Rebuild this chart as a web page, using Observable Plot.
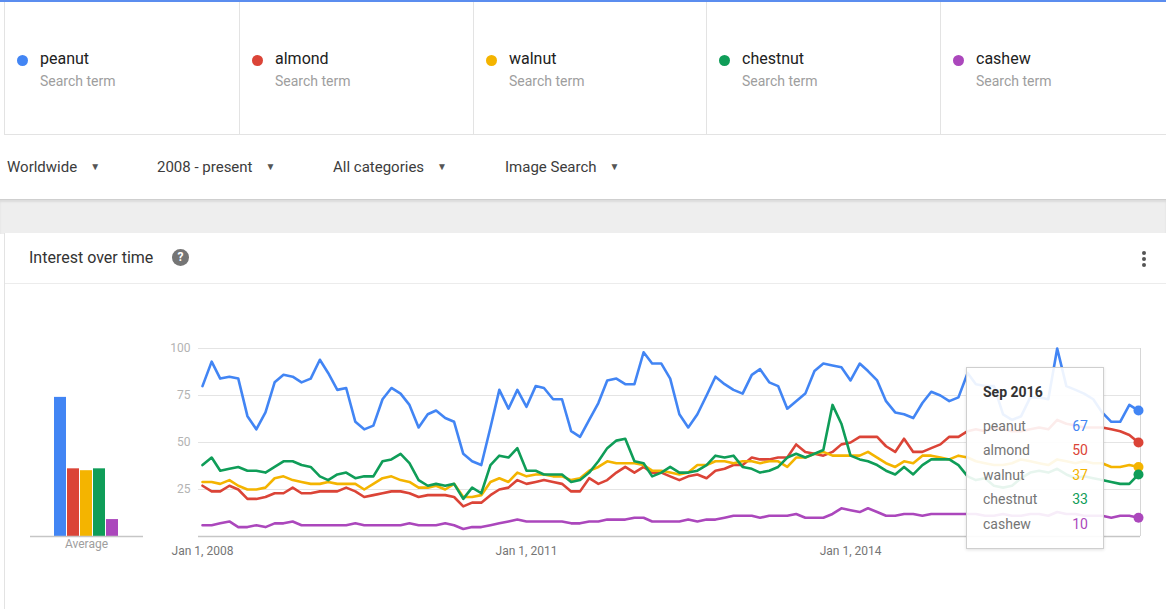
<!DOCTYPE html>
<html>
<head>
<meta charset="utf-8">
<script src="https://cdn.jsdelivr.net/npm/d3@7"></script>
<script src="https://cdn.jsdelivr.net/npm/@observablehq/plot@0.6"></script>
<style>
  html, body { margin: 0; padding: 0; background: #fff; }
  body { width: 1166px; height: 609px; position: relative; overflow: hidden; font-family: Roboto, "Noto Sans", Arial, sans-serif; color: #333; }
  .abs { position: absolute; }
  #topline { left: 0; top: 0; width: 1166px; height: 2px; background: #5b8def; }
  #terms { left: 4px; top: 2px; width: 1162px; height: 132px; border-left: 1px solid #e3e3e3; border-bottom: 1px solid #e3e3e3; }
  .term { position: absolute; top: 0; height: 132px; border-right: 1px solid #e3e3e3; box-sizing: border-box; }
  .term .dot { position: absolute; left: 12px; top: 53px; width: 11px; height: 11px; border-radius: 50%; }
  .term .name { position: absolute; left: 35px; top: 47px; font-size: 16px; color: #212121; }
  .term .sub { position: absolute; left: 35px; top: 71px; font-size: 14px; color: #9e9e9e; }
  .filter { top: 158px; font-size: 15px; color: #3c3c3c; white-space: nowrap; }
  .filter .arr { font-size: 10px; color: #555; margin-left: 13px; position: relative; top: -2px; }
  #band { left: 0; top: 199px; width: 1166px; height: 34px; background: #eeeeee; border-top: 1px solid #cfcfcf; box-shadow: inset 0 2px 2px rgba(0,0,0,0.08); }
  #card { left: 4px; top: 233px; width: 1162px; height: 376px; border-left: 1px solid #e3e3e3; background: #fff; }
  #cardhead { left: 5px; top: 233px; width: 1161px; height: 50px; border-bottom: 1px solid #ececec; }
  #title { left: 29px; top: 248px; font-size: 16px; color: #333; }
  #help { left: 172px; top: 249px; width: 17px; height: 17px; border-radius: 50%; background: #757575; color: #fff; font-size: 12px; font-weight: bold; text-align: center; line-height: 17px; }
  .kdot { position: absolute; left: 1142px; width: 4px; height: 4px; border-radius: 50%; background: #555; }
  #tip { left: 966px; top: 367px; width: 138px; height: 182px; background: rgba(255,255,255,0.9); border: 1px solid #cfcfcf; box-sizing: border-box; box-shadow: 0 1px 3px rgba(0,0,0,0.12); }
  #tip .ttl { position: absolute; left: 16px; top: 16px; font-size: 14px; font-weight: bold; color: #333; }
  #tip .row { position: absolute; left: 16px; width: 105px; font-size: 14px; color: #757575; }
  #tip .row .v { position: absolute; right: 0; top: 0; }
</style>
</head>
<body>
<script>
// ---------- data ----------
const terms = ["peanut", "almond", "walnut", "chestnut", "cashew"];
const termColors = ["#4285f4", "#db4437", "#f4b400", "#0f9d58", "#ab47bc"];
const termSubtitle = "Search term";
const filters = ["Worldwide", "2008 - present", "All categories", "Image Search"];
const averages = [74, 36, 35, 36, 9];
const averageLabel = "Average";
const panelTitle = "Interest over time";
const tooltipTitle = "Sep 2016";
const yTicks = [25, 50, 75, 100];
const xTickMonths = ["2008-01", "2011-01", "2014-01"];
const xTickLabels = ["Jan 1, 2008", "Jan 1, 2011", "Jan 1, 2014"];
const firstMonth = "2008-01";

// monthly values, Jan 2008 .. Sep 2016
const peanut = [
  80,93,84,85,84,64,57,66,82,86,85,82,
  84,94,87,78,79,61,57,59,73,79,76,70,
  58,65,67,63,61,44,40,38,58,78,68,78,
  69,80,79,73,73,56,53,62,71,83,84,81,
  81,98,92,92,84,65,58,65,75,85,81,78,
  76,86,89,82,80,68,72,76,88,92,91,90,
  83,92,88,83,72,66,65,63,71,77,75,72,
  74,87,81,80,80,65,62,64,74,74,73,100,
  80,78,76,73,66,61,61,70,67];
const almond = [
  27,24,24,27,25,20,20,21,23,23,26,23,
  23,24,24,24,26,24,21,22,23,24,24,23,
  21,22,22,22,21,16,18,18,22,25,26,30,
  28,29,30,29,28,24,24,31,28,30,34,37,
  34,37,34,34,32,30,32,33,31,35,36,38,
  38,42,41,41,42,42,49,45,44,43,45,49,
  50,53,53,53,48,45,52,45,45,47,49,53,
  53,56,57,56,58,57,56,56,57,58,57,62,
  60,59,58,58,58,57,56,54,50];
const walnut = [
  29,29,28,30,27,25,25,26,31,32,30,29,
  28,28,29,28,28,28,25,28,31,32,30,29,
  26,26,27,25,28,21,21,22,29,31,29,34,
  32,33,33,32,32,30,31,35,37,40,39,39,
  39,38,35,35,34,33,34,38,38,40,40,39,
  40,40,39,40,40,37,42,42,44,45,43,43,
  43,43,45,42,39,37,40,39,43,43,42,41,
  43,42,40,39,38,38,39,41,40,39,38,41,
  40,39,40,39,39,37,37,38,37];
const chestnut = [
  38,42,35,36,37,35,35,34,37,40,40,38,
  37,32,30,33,34,31,32,32,40,41,44,39,
  30,27,28,27,28,20,26,23,38,43,42,47,
  35,35,33,33,33,29,30,34,40,47,51,52,
  40,39,32,34,37,34,34,35,38,43,42,43,
  37,36,34,35,37,42,44,42,44,46,70,60,
  43,41,40,38,35,33,37,33,38,41,41,41,
  38,32,30,31,27,26,27,31,34,35,34,36,
  33,31,32,31,30,29,28,28,33];
const cashew = [
  6,6,7,8,5,5,6,5,7,7,8,6,
  6,6,6,6,6,7,6,6,6,6,6,7,
  6,6,6,7,6,4,5,5,6,7,8,9,
  8,8,8,8,8,7,7,8,8,9,9,9,
  10,10,8,8,8,8,9,8,9,9,10,11,
  11,11,10,11,11,11,12,10,10,10,12,15,
  14,13,15,13,11,11,12,12,11,12,12,12,
  12,12,12,11,11,12,11,11,12,12,11,13,
  12,12,11,11,11,10,11,11,10];
const seriesValues = [peanut, almond, walnut, chestnut, cashew];

// ---------- page chrome ----------
function el(tag, cls, parent, text) {
  const e = document.createElement(tag);
  if (cls) e.className = cls;
  if (text != null) e.textContent = text;
  (parent || document.body).appendChild(e);
  return e;
}
el("div", "abs", null).id = "topline";
const termsBox = el("div", "abs"); termsBox.id = "terms";
const colStarts = [0, 235, 469, 702, 936, 1162];
terms.forEach((t, k) => {
  const c = el("div", "term", termsBox);
  c.style.left = colStarts[k] + "px";
  c.style.width = (colStarts[k + 1] - colStarts[k]) + "px";
  if (k === terms.length - 1) c.style.borderRight = "none";
  const d = el("div", "dot", c); d.style.background = termColors[k];
  el("div", "name", c, t);
  el("div", "sub", c, termSubtitle);
});
const filterX = [7, 157, 333, 505];
filters.forEach((f, k) => {
  const d = el("div", "abs filter", null, f);
  d.style.left = filterX[k] + "px";
  el("span", "arr", d, "\u25BC");
});
el("div", "abs").id = "band";
el("div", "abs").id = "card";
el("div", "abs").id = "cardhead";
el("div", "abs", null, panelTitle).id = "title";
el("div", "abs", null, "?").id = "help";
[251, 257, 263].forEach(y => { const k = el("div", "kdot"); k.style.top = y + "px"; });

// ---------- charts ----------
const parseMonth = d3.utcParse("%Y-%m");
const start = parseMonth(firstMonth);
const dates = peanut.map((_, i) => d3.utcMonth.offset(start, i));
const xTickDates = xTickMonths.map(parseMonth);
const rows = terms.flatMap((t, k) => seriesValues[k].map((v, i) => ({term: t, date: dates[i], value: v})));
const lastRows = terms.map((t, k) => ({term: t, date: dates[dates.length - 1], value: seriesValues[k][seriesValues[k].length - 1]}));

const main = Plot.plot({
  width: 1166, height: 270,
  marginTop: 48, marginBottom: 34, marginLeft: 202, marginRight: 28,
  style: {fontFamily: "Roboto, sans-serif", fontSize: "12px", background: "transparent", overflow: "visible"},
  x: {type: "utc", domain: [dates[0], dates[dates.length - 1]], label: null},
  y: {domain: [0, 100], label: null},
  color: {domain: terms, range: termColors},
  marks: [
    Plot.ruleY(yTicks, {stroke: "#e4e4e4", insetLeft: -4, insetRight: -2}),
    Plot.ruleY([0], {stroke: "#c6c6c6", strokeWidth: 1.5, insetLeft: -4, insetRight: -2}),
    Plot.ruleX([dates[dates.length - 1]], {stroke: "#d6d6d6", dx: 2}),
    Plot.axisY(yTicks, {tickSize: 0, tickPadding: 12, fill: "#b3b3b3", fontSize: 12}),
    Plot.axisX(xTickDates, {tickSize: 0, tickPadding: 10, fill: "#757575", fontSize: 12,
      tickFormat: d => xTickLabels[xTickDates.findIndex(t => +t === +d)]}),
    Plot.lineY(rows, {x: "date", y: "value", z: "term", stroke: "term", strokeWidth: 2.6, strokeLinejoin: "round"}),
    Plot.dot(lastRows, {x: "date", y: "value", fill: "term", r: 5})
  ]
});
main.style.position = "absolute";
main.style.left = "0px";
main.style.top = "300px";
document.body.appendChild(main);

const avgRows = terms.map((t, k) => ({term: t, value: averages[k]}));
const avg = Plot.plot({
  width: 160, height: 270,
  marginTop: 48, marginBottom: 34, marginLeft: 51, marginRight: 39,
  style: {fontFamily: "Roboto, sans-serif", fontSize: "12px", background: "transparent", overflow: "visible"},
  x: {domain: terms, padding: 0.07, axis: null},
  y: {domain: [0, 100], axis: null},
  color: {domain: terms, range: termColors},
  marks: [
    Plot.barY(avgRows, {x: "term", y: "value", fill: "term"}),
    Plot.ruleY([0], {stroke: "#c6c6c6", strokeWidth: 1.5, insetLeft: -21, insetRight: -22}),
    Plot.text([averageLabel], {frameAnchor: "bottom", dy: 11, fill: "#9e9e9e", fontSize: 12})
  ]
});
avg.style.position = "absolute";
avg.style.left = "0px";
avg.style.top = "300px";
document.body.appendChild(avg);

// ---------- tooltip ----------
const tip = el("div", "abs"); tip.id = "tip";
el("div", "ttl", tip, tooltipTitle);
terms.forEach((t, k) => {
  const r = el("div", "row", tip, t);
  r.style.top = (50 + k * 24.4) + "px";
  const v = el("span", "v", r, String(seriesValues[k][seriesValues[k].length - 1]));
  v.style.color = termColors[k];
});
</script>
</body>
</html>
